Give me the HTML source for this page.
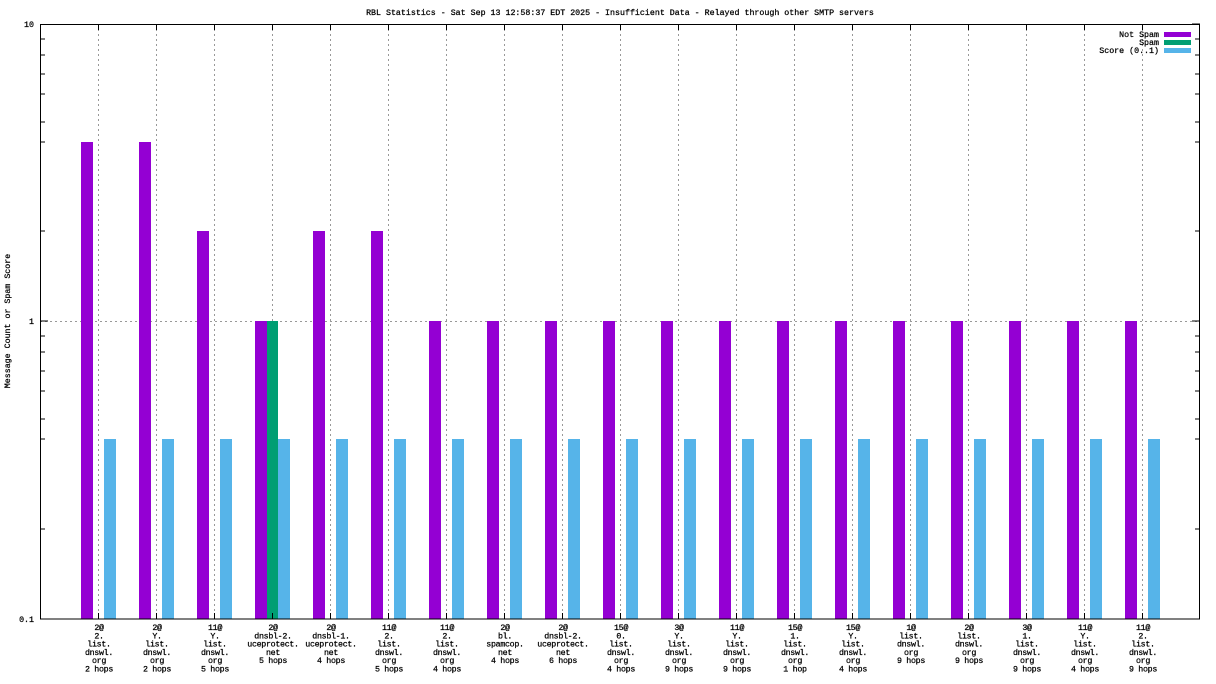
<!DOCTYPE html>
<html><head><meta charset="utf-8"><style>
html,body{margin:0;padding:0;background:#fff}
svg{display:block}
text{font-family:"Liberation Mono","DejaVu Sans Mono",monospace;font-size:8.3px;fill:#000;stroke:#000;stroke-width:0.25}
.lb text{letter-spacing:-0.3px}
</style></head><body>
<svg width="1216" height="684" viewBox="0 0 1216 684" xmlns="http://www.w3.org/2000/svg">
<rect width="1216" height="684" fill="#fff"/>
<text x="620" y="15" text-anchor="middle">RBL Statistics - Sat Sep 13 12:58:37 EDT 2025 - Insufficient Data - Relayed through other SMTP servers</text>
<text transform="translate(10,321) rotate(-90)" text-anchor="middle">Message Count or Spam Score</text>
<text x="34" y="27" text-anchor="end">10</text>
<text x="34" y="324" text-anchor="end">1</text>
<text x="34" y="622" text-anchor="end">0.1</text>
<g stroke="#999" stroke-width="1" stroke-dasharray="2,3">
<line x1="40" y1="321.5" x2="1200" y2="321.5"/>
<line x1="98.5" y1="24" x2="98.5" y2="619"/><line x1="156.5" y1="24" x2="156.5" y2="619"/><line x1="214.5" y1="24" x2="214.5" y2="619"/><line x1="272.5" y1="24" x2="272.5" y2="619"/><line x1="330.5" y1="24" x2="330.5" y2="619"/><line x1="388.5" y1="24" x2="388.5" y2="619"/><line x1="446.5" y1="24" x2="446.5" y2="619"/><line x1="504.5" y1="24" x2="504.5" y2="619"/><line x1="562.5" y1="24" x2="562.5" y2="619"/><line x1="620.5" y1="24" x2="620.5" y2="619"/><line x1="678.5" y1="24" x2="678.5" y2="619"/><line x1="736.5" y1="24" x2="736.5" y2="619"/><line x1="794.5" y1="24" x2="794.5" y2="619"/><line x1="852.5" y1="24" x2="852.5" y2="619"/><line x1="910.5" y1="24" x2="910.5" y2="619"/><line x1="968.5" y1="24" x2="968.5" y2="619"/><line x1="1026.5" y1="24" x2="1026.5" y2="619"/><line x1="1084.5" y1="24" x2="1084.5" y2="619"/><line x1="1142.5" y1="24" x2="1142.5" y2="619"/>
</g>
<g fill="#9400d3">
<rect x="81" y="142" width="12" height="477"/><rect x="139" y="142" width="12" height="477"/><rect x="197" y="231" width="12" height="388"/><rect x="255" y="321" width="12" height="298"/><rect x="313" y="231" width="12" height="388"/><rect x="371" y="231" width="12" height="388"/><rect x="429" y="321" width="12" height="298"/><rect x="487" y="321" width="12" height="298"/><rect x="545" y="321" width="12" height="298"/><rect x="603" y="321" width="12" height="298"/><rect x="661" y="321" width="12" height="298"/><rect x="719" y="321" width="12" height="298"/><rect x="777" y="321" width="12" height="298"/><rect x="835" y="321" width="12" height="298"/><rect x="893" y="321" width="12" height="298"/><rect x="951" y="321" width="12" height="298"/><rect x="1009" y="321" width="12" height="298"/><rect x="1067" y="321" width="12" height="298"/><rect x="1125" y="321" width="12" height="298"/>
</g>
<rect x="267" y="321" width="11" height="298" fill="#009e73"/>
<g fill="#56b4e9">
<rect x="104" y="439" width="12" height="180"/><rect x="162" y="439" width="12" height="180"/><rect x="220" y="439" width="12" height="180"/><rect x="278" y="439" width="12" height="180"/><rect x="336" y="439" width="12" height="180"/><rect x="394" y="439" width="12" height="180"/><rect x="452" y="439" width="12" height="180"/><rect x="510" y="439" width="12" height="180"/><rect x="568" y="439" width="12" height="180"/><rect x="626" y="439" width="12" height="180"/><rect x="684" y="439" width="12" height="180"/><rect x="742" y="439" width="12" height="180"/><rect x="800" y="439" width="12" height="180"/><rect x="858" y="439" width="12" height="180"/><rect x="916" y="439" width="12" height="180"/><rect x="974" y="439" width="12" height="180"/><rect x="1032" y="439" width="12" height="180"/><rect x="1090" y="439" width="12" height="180"/><rect x="1148" y="439" width="12" height="180"/>
</g>
<g stroke="#000" stroke-width="1">
<rect x="40.5" y="24.5" width="1159" height="594.5" fill="none"/>
<path d="M40 39h5M40 55h5M40 74h5M40 94h5M40 122h5M40 142h5M40 231h5
M40 336h5M40 352h5M40 371h5M40 391h5M40 419h5M40 439h5M40 529h5
M1200 39h-5M1200 55h-5M1200 74h-5M1200 94h-5M1200 122h-5M1200 142h-5M1200 231h-5M1200 321h-8M1200 24h-8
M1200 336h-5M1200 352h-5M1200 371h-5M1200 391h-5M1200 419h-5M1200 439h-5M1200 529h-5
M40 321h8"/>
<path d="M98.5 619v-6M156.5 619v-6M214.5 619v-6M272.5 619v-6M330.5 619v-6M388.5 619v-6M446.5 619v-6M504.5 619v-6M562.5 619v-6M620.5 619v-6M678.5 619v-6M736.5 619v-6M794.5 619v-6M852.5 619v-6M910.5 619v-6M968.5 619v-6M1026.5 619v-6M1084.5 619v-6M1142.5 619v-6
M98.5 24v6M156.5 24v6M214.5 24v6M272.5 24v6M330.5 24v6M388.5 24v6M446.5 24v6M504.5 24v6M562.5 24v6M620.5 24v6M678.5 24v6M736.5 24v6M794.5 24v6M852.5 24v6M910.5 24v6M968.5 24v6M1026.5 24v6M1084.5 24v6M1142.5 24v6"/>
</g>
<text x="1159" y="37" text-anchor="end">Not Spam</text>
<text x="1159" y="45" text-anchor="end">Spam</text>
<text x="1159" y="53" text-anchor="end">Score (0..1)</text>
<rect x="1164" y="32" width="27" height="5" fill="#9400d3"/>
<rect x="1164" y="40" width="27" height="5" fill="#009e73"/>
<rect x="1164" y="48" width="27" height="5" fill="#56b4e9"/>
<g text-anchor="middle" class="lb">
<text x="99" y="630">2@<tspan x="99" dy="8.3">2.</tspan><tspan x="99" dy="8.3">list.</tspan><tspan x="99" dy="8.3">dnswl.</tspan><tspan x="99" dy="8.3">org</tspan><tspan x="99" dy="8.3">2 hops</tspan></text>
<text x="157" y="630">2@<tspan x="157" dy="8.3">Y.</tspan><tspan x="157" dy="8.3">list.</tspan><tspan x="157" dy="8.3">dnswl.</tspan><tspan x="157" dy="8.3">org</tspan><tspan x="157" dy="8.3">2 hops</tspan></text>
<text x="215" y="630">11@<tspan x="215" dy="8.3">Y.</tspan><tspan x="215" dy="8.3">list.</tspan><tspan x="215" dy="8.3">dnswl.</tspan><tspan x="215" dy="8.3">org</tspan><tspan x="215" dy="8.3">5 hops</tspan></text>
<text x="273" y="630">2@<tspan x="273" dy="8.3">dnsbl-2.</tspan><tspan x="273" dy="8.3">uceprotect.</tspan><tspan x="273" dy="8.3">net</tspan><tspan x="273" dy="8.3">5 hops</tspan></text>
<text x="331" y="630">2@<tspan x="331" dy="8.3">dnsbl-1.</tspan><tspan x="331" dy="8.3">uceprotect.</tspan><tspan x="331" dy="8.3">net</tspan><tspan x="331" dy="8.3">4 hops</tspan></text>
<text x="389" y="630">11@<tspan x="389" dy="8.3">2.</tspan><tspan x="389" dy="8.3">list.</tspan><tspan x="389" dy="8.3">dnswl.</tspan><tspan x="389" dy="8.3">org</tspan><tspan x="389" dy="8.3">5 hops</tspan></text>
<text x="447" y="630">11@<tspan x="447" dy="8.3">2.</tspan><tspan x="447" dy="8.3">list.</tspan><tspan x="447" dy="8.3">dnswl.</tspan><tspan x="447" dy="8.3">org</tspan><tspan x="447" dy="8.3">4 hops</tspan></text>
<text x="505" y="630">2@<tspan x="505" dy="8.3">bl.</tspan><tspan x="505" dy="8.3">spamcop.</tspan><tspan x="505" dy="8.3">net</tspan><tspan x="505" dy="8.3">4 hops</tspan></text>
<text x="563" y="630">2@<tspan x="563" dy="8.3">dnsbl-2.</tspan><tspan x="563" dy="8.3">uceprotect.</tspan><tspan x="563" dy="8.3">net</tspan><tspan x="563" dy="8.3">6 hops</tspan></text>
<text x="621" y="630">15@<tspan x="621" dy="8.3">0.</tspan><tspan x="621" dy="8.3">list.</tspan><tspan x="621" dy="8.3">dnswl.</tspan><tspan x="621" dy="8.3">org</tspan><tspan x="621" dy="8.3">4 hops</tspan></text>
<text x="679" y="630">3@<tspan x="679" dy="8.3">Y.</tspan><tspan x="679" dy="8.3">list.</tspan><tspan x="679" dy="8.3">dnswl.</tspan><tspan x="679" dy="8.3">org</tspan><tspan x="679" dy="8.3">9 hops</tspan></text>
<text x="737" y="630">11@<tspan x="737" dy="8.3">Y.</tspan><tspan x="737" dy="8.3">list.</tspan><tspan x="737" dy="8.3">dnswl.</tspan><tspan x="737" dy="8.3">org</tspan><tspan x="737" dy="8.3">9 hops</tspan></text>
<text x="795" y="630">15@<tspan x="795" dy="8.3">1.</tspan><tspan x="795" dy="8.3">list.</tspan><tspan x="795" dy="8.3">dnswl.</tspan><tspan x="795" dy="8.3">org</tspan><tspan x="795" dy="8.3">1 hop</tspan></text>
<text x="853" y="630">15@<tspan x="853" dy="8.3">Y.</tspan><tspan x="853" dy="8.3">list.</tspan><tspan x="853" dy="8.3">dnswl.</tspan><tspan x="853" dy="8.3">org</tspan><tspan x="853" dy="8.3">4 hops</tspan></text>
<text x="911" y="630">1@<tspan x="911" dy="8.3">list.</tspan><tspan x="911" dy="8.3">dnswl.</tspan><tspan x="911" dy="8.3">org</tspan><tspan x="911" dy="8.3">9 hops</tspan></text>
<text x="969" y="630">2@<tspan x="969" dy="8.3">list.</tspan><tspan x="969" dy="8.3">dnswl.</tspan><tspan x="969" dy="8.3">org</tspan><tspan x="969" dy="8.3">9 hops</tspan></text>
<text x="1027" y="630">3@<tspan x="1027" dy="8.3">1.</tspan><tspan x="1027" dy="8.3">list.</tspan><tspan x="1027" dy="8.3">dnswl.</tspan><tspan x="1027" dy="8.3">org</tspan><tspan x="1027" dy="8.3">9 hops</tspan></text>
<text x="1085" y="630">11@<tspan x="1085" dy="8.3">Y.</tspan><tspan x="1085" dy="8.3">list.</tspan><tspan x="1085" dy="8.3">dnswl.</tspan><tspan x="1085" dy="8.3">org</tspan><tspan x="1085" dy="8.3">4 hops</tspan></text>
<text x="1143" y="630">11@<tspan x="1143" dy="8.3">2.</tspan><tspan x="1143" dy="8.3">list.</tspan><tspan x="1143" dy="8.3">dnswl.</tspan><tspan x="1143" dy="8.3">org</tspan><tspan x="1143" dy="8.3">9 hops</tspan></text>
</g>
</svg>
</body></html>
